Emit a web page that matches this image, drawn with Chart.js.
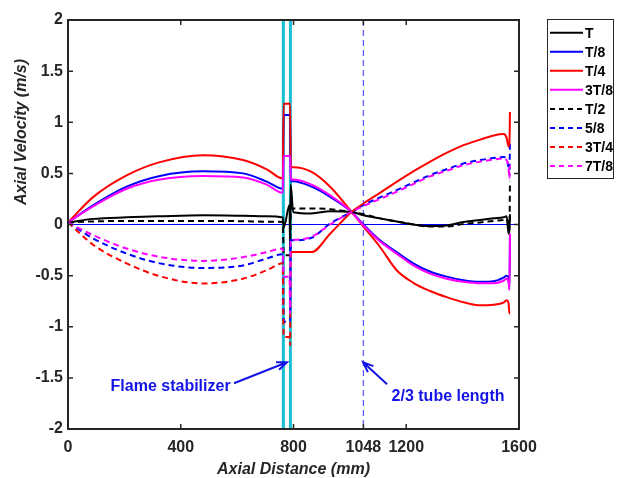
<!DOCTYPE html>
<html>
<head>
<meta charset="utf-8">
<script src="https://cdn.jsdelivr.net/npm/chart.js@4.4.1/dist/chart.umd.min.js"></script>
<style>
  html, body { margin: 0; padding: 0; background: #fff; }
  #wrap { width: 618px; height: 478px; }
</style>
</head>
<body>
<div id="wrap"><canvas id="velChart" width="618" height="478"></canvas></div>
<script>
"use strict";

// axial positions (mm), shared by every phase
var distance = [0, 90, 208, 326, 479, 621, 705, 762, 765, 786, 788, 790, 799, 864, 930,
    1006, 1048, 1107, 1166, 1225, 1284, 1343, 1403, 1462, 1510, 1545, 1556, 1563, 1566, 1568];

// axial velocity (m/s) at each phase of the cycle
var velT = [0.02, 0.055, 0.07, 0.08, 0.09, 0.085, 0.08, 0.068, -0.03, 0.19, -0.22, 0.39, 0.12, 0.108, 0.13,
    0.123, 0.09, 0.06, 0.03, 0.0, -0.015, -0.01, 0.025, 0.045, 0.06, 0.07, 0.08, -0.09, -0.05, 0.1];
var velT8 = [0.02, 0.19, 0.37, 0.475, 0.52, 0.5, 0.42, 0.35, 1.07, 1.07, 1.07, 0.42, 0.424, 0.37, 0.27,
    0.123, 0.0, -0.154, -0.27, -0.38, -0.46, -0.51, -0.545, -0.56, -0.555, -0.52, -0.5, -0.52, -0.62, -0.1];
var velT4 = [0.02, 0.27, 0.48, 0.61, 0.678, 0.63, 0.54, 0.45, 1.18, 1.18, 1.18, 0.56, 0.56, 0.515, 0.37,
    0.123, -0.02, -0.22, -0.447, -0.57, -0.65, -0.71, -0.76, -0.79, -0.785, -0.765, -0.74, -0.77, -0.87, -0.87];
var vel3T8 = [0.02, 0.18, 0.35, 0.44, 0.475, 0.46, 0.39, 0.31, 0.67, 0.67, 0.67, 0.44, 0.44, 0.39, 0.285,
    0.123, -0.01, -0.165, -0.285, -0.4, -0.48, -0.53, -0.56, -0.575, -0.575, -0.55, -0.53, -0.57, -0.64, -0.09];
var velT2 = [0.02, 0.03, 0.035, 0.035, 0.035, 0.032, 0.028, 0.025, -0.3, -0.3, -0.3, 0.157, 0.157, 0.157, 0.15,
    0.123, 0.1, 0.06, 0.03, 0.0, -0.02, -0.02, 0.005, 0.02, 0.035, 0.045, 0.05, 0.0, -0.06, 0.42];
var vel5T8 = [0.02, -0.137, -0.284, -0.38, -0.425, -0.4, -0.333, -0.29, -0.95, -0.95, -0.95, -0.15, -0.154, -0.13, 0.01,
    0.123, 0.19, 0.265, 0.336, 0.41, 0.482, 0.54, 0.596, 0.63, 0.65, 0.66, 0.64, 0.55, 0.48, 0.82];
var vel3T4 = [0.02, -0.2, -0.38, -0.506, -0.577, -0.53, -0.447, -0.38, -1.1, -1.1, -1.18, -0.27, -0.27, -0.27, -0.09,
    0.123, 0.205, 0.31, 0.417, 0.52, 0.613, 0.7, 0.776, 0.83, 0.87, 0.885, 0.85, 0.76, 0.8, 1.1];
var vel7T8 = [0.02, -0.105, -0.235, -0.317, -0.356, -0.32, -0.27, -0.235, -0.51, -0.51, -0.87, -0.15, -0.15, -0.12, 0.0,
    0.123, 0.18, 0.25, 0.32, 0.395, 0.47, 0.525, 0.58, 0.615, 0.635, 0.645, 0.63, 0.55, 0.45, 0.58];

var phaseLabels = ['T', 'T/8', 'T/4', '3T/8', 'T/2', '5/8', '3T/4', '7T/8'];
var xTicks = [0, 400, 800, 1048, 1200, 1600];
var stabilizerPos = [764, 789];
var tubeMark = 1048;

var seriesList = [velT, velT8, velT4, vel3T8, velT2, vel5T8, vel3T4, vel7T8];
var lineColors = ['#000000', '#0000ff', '#ff0000', '#ff00ff', '#000000', '#0000ff', '#ff0000', '#ff00ff'];
var dashed = [false, false, false, false, true, true, true, true];

function toPoints(vals) {
    return distance.map(function (x, i) { return { x: x, y: vals[i] }; });
}

var datasets = seriesList.map(function (vals, i) {
    var ds = {
        label: phaseLabels[i],
        data: toPoints(vals),
        borderColor: lineColors[i],
        backgroundColor: lineColors[i],
        borderWidth: 2,
        borderDash: dashed[i] ? [6, 4] : [],
        pointRadius: 0,
        cubicInterpolationMode: 'monotone',
        order: 8 - i
    };
    // 3T/4 is drawn solid downstream of the stabilizer in the source figure
    if (phaseLabels[i] === '3T/4') {
        ds.segment = {
            borderDash: function (ctx) { return ctx.p0.parsed.x >= 790 ? [] : undefined; }
        };
    }
    return ds;
});

var axisColor = '#262626';
var noteColor = '#1414e6';

function drawArrow(ctx, x0, y0, x1, y1) {
    var ang = Math.atan2(y1 - y0, x1 - x0), len = 11, spread = 0.38;
    ctx.beginPath();
    ctx.moveTo(x0, y0);
    ctx.lineTo(x1, y1);
    ctx.moveTo(x1 - len * Math.cos(ang - spread), y1 - len * Math.sin(ang - spread));
    ctx.lineTo(x1, y1);
    ctx.lineTo(x1 - len * Math.cos(ang + spread), y1 - len * Math.sin(ang + spread));
    ctx.stroke();
}

var overlay = {
    id: 'overlay',
    beforeDatasetsDraw: function (chart) {
        var ctx = chart.ctx, a = chart.chartArea, sx = chart.scales.x, sy = chart.scales.y;
        ctx.save();
        // zero reference
        ctx.strokeStyle = '#0000ff';
        ctx.lineWidth = 1;
        ctx.beginPath();
        ctx.moveTo(a.left, sy.getPixelForValue(0));
        ctx.lineTo(a.right, sy.getPixelForValue(0));
        ctx.stroke();
        // stabilizer edges
        ctx.strokeStyle = '#17bfd2';
        ctx.lineWidth = 3;
        stabilizerPos.forEach(function (v) {
            var px = sx.getPixelForValue(v);
            ctx.beginPath();
            ctx.moveTo(px, a.top);
            ctx.lineTo(px, a.bottom);
            ctx.stroke();
        });
        // 2/3 tube length marker
        ctx.strokeStyle = '#5a5aff';
        ctx.lineWidth = 1.3;
        ctx.setLineDash([6, 4]);
        var tx = sx.getPixelForValue(tubeMark);
        ctx.beginPath();
        ctx.moveTo(tx, a.top);
        ctx.lineTo(tx, a.bottom);
        ctx.stroke();
        ctx.restore();
    },
    afterDraw: function (chart) {
        var ctx = chart.ctx, a = chart.chartArea, sx = chart.scales.x, sy = chart.scales.y;
        ctx.save();

        // axes box with inward ticks
        ctx.strokeStyle = axisColor;
        ctx.lineWidth = 2;
        ctx.strokeRect(a.left, a.top, a.right - a.left, a.bottom - a.top);
        ctx.lineWidth = 1.5;
        ctx.beginPath();
        xTicks.forEach(function (v) {
            var px = sx.getPixelForValue(v);
            ctx.moveTo(px, a.bottom); ctx.lineTo(px, a.bottom - 5);
            ctx.moveTo(px, a.top); ctx.lineTo(px, a.top + 5);
        });
        sy.ticks.forEach(function (t) {
            var py = sy.getPixelForValue(t.value);
            ctx.moveTo(a.left, py); ctx.lineTo(a.left + 5, py);
            ctx.moveTo(a.right, py); ctx.lineTo(a.right - 5, py);
        });
        ctx.stroke();

        // axis titles
        ctx.fillStyle = axisColor;
        ctx.font = 'italic bold 16px "Liberation Sans", Arial, sans-serif';
        ctx.textAlign = 'center';
        ctx.textBaseline = 'middle';
        ctx.fillText('Axial Distance (mm)', (a.left + a.right) / 2, 470);
        ctx.save();
        ctx.translate(22, 132);
        ctx.rotate(-Math.PI / 2);
        ctx.fillText('Axial Velocity (m/s)', 0, 0);
        ctx.restore();

        // annotations
        ctx.strokeStyle = noteColor;
        ctx.fillStyle = noteColor;
        ctx.lineWidth = 2;
        ctx.font = 'bold 16px "Liberation Sans", Arial, sans-serif';
        ctx.textAlign = 'left';
        drawArrow(ctx, sx.getPixelForValue(589), sy.getPixelForValue(-1.553),
            sx.getPixelForValue(777), sy.getPixelForValue(-1.347));
        ctx.fillText('Flame stabilizer', sx.getPixelForValue(151), sy.getPixelForValue(-1.582));
        drawArrow(ctx, sx.getPixelForValue(1132), sy.getPixelForValue(-1.563),
            sx.getPixelForValue(1047), sy.getPixelForValue(-1.347));
        ctx.fillText('2/3 tube length', sx.getPixelForValue(1148), sy.getPixelForValue(-1.687));

        // legend
        ctx.fillStyle = '#ffffff';
        ctx.fillRect(547, 19, 66, 159);
        ctx.strokeStyle = axisColor;
        ctx.lineWidth = 1;
        ctx.strokeRect(547.5, 19.5, 66, 159);
        ctx.font = 'bold 14px "Liberation Sans", Arial, sans-serif';
        ctx.textBaseline = 'middle';
        chart.data.datasets.forEach(function (ds, i) {
            var ly = 32.7 + i * 19.05;
            ctx.strokeStyle = ds.borderColor;
            ctx.lineWidth = 2;
            ctx.setLineDash(ds.borderDash.length ? [5, 4] : []);
            ctx.beginPath();
            ctx.moveTo(550, ly);
            ctx.lineTo(583, ly);
            ctx.stroke();
            ctx.setLineDash([]);
            ctx.fillStyle = '#000000';
            ctx.fillText(ds.label, 585, ly + 1);
        });
        ctx.restore();
    }
};

var tickFont = { family: '"Liberation Sans", Arial, sans-serif', size: 16, weight: 'bold' };

new Chart(document.getElementById('velChart'), {
    type: 'line',
    data: { datasets: datasets },
    options: {
        responsive: false,
        animation: false,
        layout: { padding: { top: 20, right: 99, left: 0, bottom: 0 } },
        plugins: { legend: { display: false }, tooltip: { enabled: false } },
        scales: {
            x: {
                type: 'linear',
                min: 0,
                max: 1600,
                afterBuildTicks: function (scale) {
                    scale.ticks = xTicks.map(function (v) { return { value: v }; });
                },
                afterFit: function (scale) { scale.height = 49; },
                grid: { display: false, drawTicks: false },
                border: { display: false },
                ticks: {
                    padding: 9, color: axisColor, font: tickFont, maxRotation: 0, autoSkip: false,
                    callback: function (v) { return String(v); }
                }
            },
            y: {
                type: 'linear',
                min: -2,
                max: 2,
                afterFit: function (scale) { scale.width = 68; },
                grid: { display: false, drawTicks: false },
                border: { display: false },
                ticks: {
                    stepSize: 0.5, padding: 5, color: axisColor, font: tickFont,
                    callback: function (v) { return String(v); }
                }
            }
        }
    },
    plugins: [overlay]
});
</script>
</body>
</html>
